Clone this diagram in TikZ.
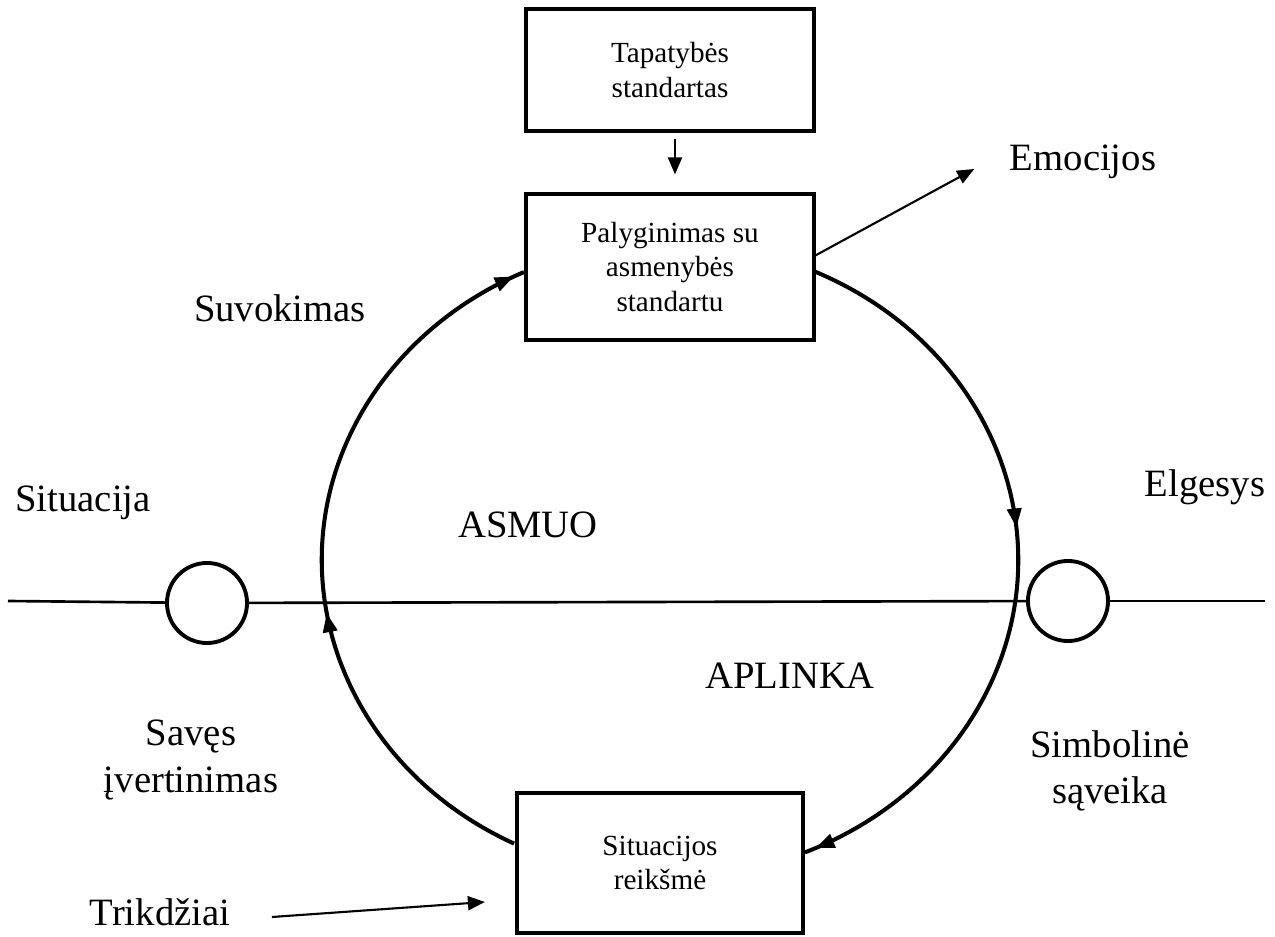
\documentclass[tikz,border=0pt]{standalone}
\usepackage{fontspec}
\setmainfont{Liberation Serif}
\usetikzlibrary{positioning, arrows.meta, calc, decorations.markings}
\newcommand{\lblfont}{\fontsize{11}{13.3}\selectfont}
\newcommand{\stagefont}{\fontsize{8.3}{9.9}\selectfont}

\begin{document}
\begin{tikzpicture}[
    x=0.01cm, y=-0.01cm,
    stage/.style={draw, rectangle, line width=1.15pt, minimum width=2.87cm, align=center, fill=white, font=\stagefont},
    junction/.style={draw, circle, line width=1.1pt, minimum size=0.8cm, inner sep=0pt, fill=white},
    lbl/.style={align=center, font=\lblfont, inner sep=0pt},
    divider/.style={line width=0.75pt},
    arr/.style={line width=0.6pt, -{Triangle[length=1.7mm, width=1.4mm]}},
    cyclearc/.style={line width=1.15pt, postaction={decorate}}
]
    \useasboundingbox (0,0) rectangle (1275,937);

    % ================= CYCLE =================
    \coordinate (MID) at (670,560);
    \draw[cyclearc, decoration={markings,
            mark=at position 0.42 with {\arrow{Triangle[length=1.9mm, width=1.4mm]}},
            mark=at position 0.985 with {\arrow{Triangle[length=1.9mm, width=1.4mm]}}}]
        ($(MID)+(243.4:3.48cm and 3.17cm)$) arc[start angle=243.4, end angle=114.8, x radius=3.48cm, y radius=3.17cm];
    \draw[cyclearc, decoration={markings,
            mark=at position 0.45 with {\arrow{Triangle[length=1.9mm, width=1.4mm]}},
            mark=at position 0.985 with {\arrow{Triangle[length=1.9mm, width=1.4mm]}}}]
        ($(MID)+(65.4:3.48cm and 3.17cm)$) arc[start angle=65.4, end angle=-67.2, x radius=3.48cm, y radius=3.17cm];

    % ================= BOXES =================
    \node[stage, minimum height=1.22cm] (TAPAT) at (670,70) {Tapatybės\\standartas};
    \node[stage, minimum height=1.45cm] (PALYG) at (670,267) {Palyginimas su\\asmenybės\\standartu};
    \node[stage, minimum width=2.86cm, minimum height=1.39cm] (SITREIK) at (660,863) {Situacijos\\reikšmė};

    % ================= SITUATION LINE =================
    \coordinate (LINE_L) at (8,601);
    \coordinate (LINE_R) at (1265,601);
    \node[junction] (SIT_J) at (207,603) {};
    \node[junction] (ELG_J) at (1068,601) {};
    \draw[divider] (LINE_L) -- (SIT_J);
    \draw[divider] (SIT_J) -- (ELG_J);
    \draw[divider] (ELG_J) -- (LINE_R);

    % ================= LABELS =================
    \node[lbl] (SUVOK) at (280,308) {Suvokimas};
    \node[lbl] (SITUAC) at (83,503) {Situacija};
    \node[lbl] (ELGES) at (1205,487) {Elgesys};
    \node[lbl] (ASMUO) at (528,525) {ASMUO};
    \node[lbl] (APLINKA) at (790,676) {APLINKA};
    \node[lbl] (EMOC) at (1083,162) {Emocijos};
    \node[lbl] (SAVES) at (191,760) {Savęs\\įvertinimas};
    \node[lbl] (SIMB) at (1110,771) {Simbolinė\\sąveika};
    \node[lbl] (TRIK) at (160,912) {Trikdžiai};

    % ================= ARROWS =================
    \draw[arr] ($(TAPAT.south)+(5,6)$) -- ($(PALYG.north)+(5,-18)$);
    \draw[arr] ($(PALYG.east)+(-3,-10)$) -- ($(EMOC.west)+(-35,7)$);
    \draw[arr] ($(TRIK.east)+(41,5)$) -- ($(SITREIK.west)+(-30,39)$);

\end{tikzpicture}
\end{document}
